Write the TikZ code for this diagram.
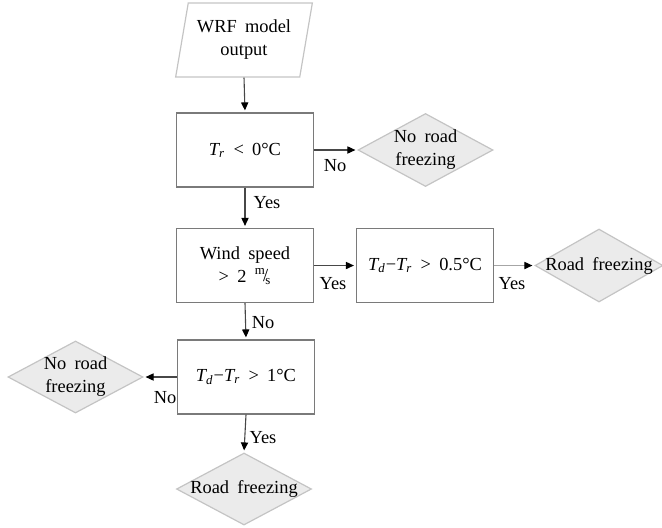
\documentclass[tikz,border=0pt]{standalone}
\usepackage{fontspec}
\setmainfont{Liberation Serif}
\usetikzlibrary{shapes.geometric,arrows.meta}

\definecolor{boxline}{HTML}{7A7A7A}
\definecolor{dialine}{HTML}{C4C4C4}
\definecolor{diafill}{HTML}{EBEBEB}
\definecolor{flowline}{HTML}{474747}

\newcommand{\flowfont}{\fontsize{9.2}{11.5}\selectfont\spaceskip=0.45em\relax}

\tikzset{
  txt/.style={font=\flowfont, align=center},
  test/.style={draw=boxline, line width=0.6pt, rectangle, minimum width=68.5pt, minimum height=37pt, inner sep=0pt, txt},
  datain/.style={draw=dialine, line width=0.6pt, trapezium, trapezium left angle=75, trapezium right angle=105,
    trapezium stretches=true, minimum width=68.5pt, minimum height=37pt, inner sep=0pt, txt},
  decision/.style={draw=dialine, fill=diafill, line width=0.6pt, diamond, minimum width=67.5pt, minimum height=36.5pt, inner sep=0pt},
  flow/.style={draw=flowline, line width=0.55pt, -{Triangle[length=4pt,width=3.6pt,color=black]}, shorten >=1pt},
  lbl/.style={txt}
}

\newcommand{\Tr}{\textit{T\textsubscript{r}}}
\newcommand{\Td}{\textit{T\textsubscript{d}}}
\newcommand{\mps}{\textsuperscript{m}\kern-0.15em\raisebox{0.1ex}{/}\kern-0.15em\textsubscript{s}}

\begin{document}
\begin{tikzpicture}[x=0.5pt, y=-0.5pt]

\useasboundingbox (0,0) rectangle (662,527);

% input
\node[datain] (wrf) at (244,40) {WRF model\\output};

% tests
\node[test] (c1) at (245,150) {\Tr{} < 0°C};
\node[test] (c2) at (245,265.5) {Wind speed\\> 2 \mps};
\node[test] (c3) at (425,265.5) {\Td−\Tr{} > 0.5°C};
\node[test] (c4) at (246,377) {\Td−\Tr{} > 1°C};

% outcomes
\node[decision, label={[txt]center:No road\\freezing}] (nf1) at (425.5,150) {};
\node[decision, minimum width=64pt, label={[txt]center:Road freezing}] (rf1) at (599,265.5) {};
\node[decision, minimum height=36pt, label={[txt]center:No road\\freezing}] (nf2) at (75.5,377) {};
\node[decision, minimum height=36pt, label={[txt]center:Road freezing}] (rf2) at (244,489) {};

% connectors
\draw[flow] (wrf.south) -- (c1.north);
\draw[flow] (c1.east) -- (nf1.west);
\draw[flow] (c1.south) -- (c2.north);
\draw[flow] (c2.east) -- (c3.west);
\draw[flow, draw=gray!70] (c3.east) -- (rf1.west);
\draw[flow] (c2.south) -- (c4.north);
\draw[flow] (c4.west) -- (nf2.east);
\draw[flow] (c4.south) -- (rf2.north);

% labels
\node[lbl] at (335,166) {No};
\node[lbl] at (267,203) {Yes};
\node[lbl] at (333,284) {Yes};
\node[lbl] at (512,284) {Yes};
\node[lbl] at (263,323) {No};
\node[lbl] at (165,398) {No};
\node[lbl] at (263,438) {Yes};

\end{tikzpicture}
\end{document}
